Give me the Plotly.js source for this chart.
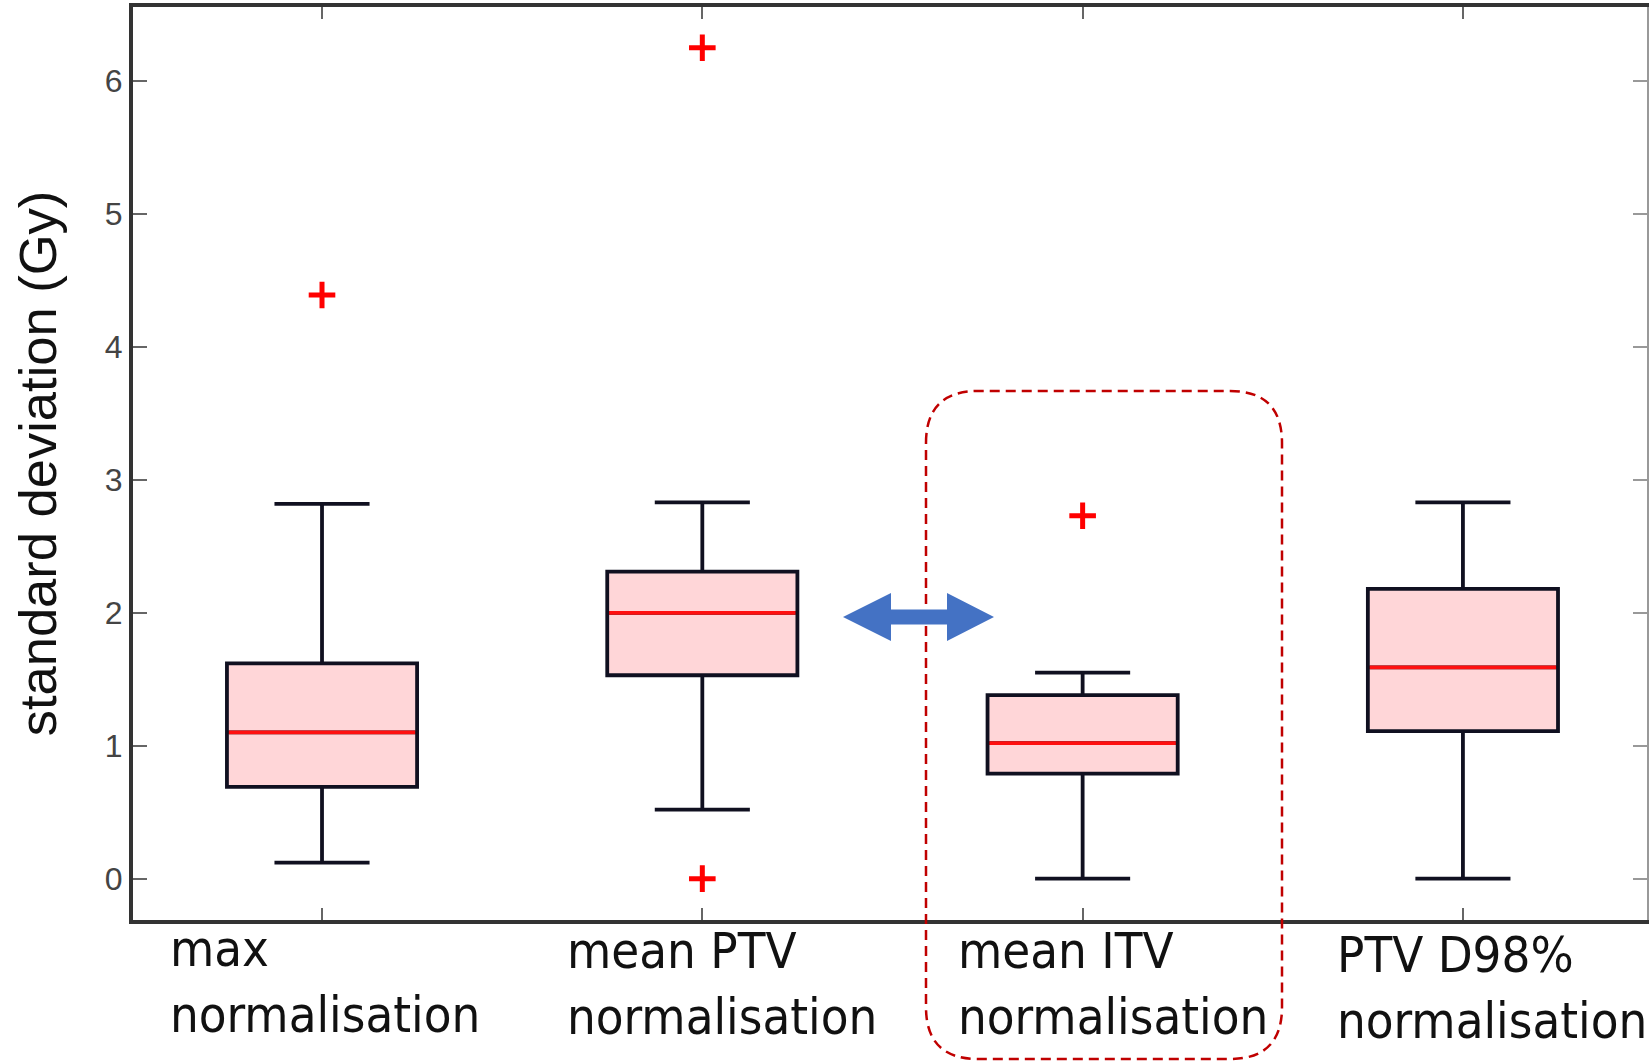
<!DOCTYPE html>
<html>
<head>
<meta charset="utf-8">
<script src="https://cdn.plot.ly/plotly-3.0.1.min.js"></script>
<style>html,body{margin:0;padding:0;background:#fff;} #chart{width:1650px;height:1062px;}</style>
</head>
<body>
<div id="chart"></div>
<script>
// ---- data ----
const categories = ["max normalisation", "mean PTV normalisation", "mean ITV normalisation", "PTV D98% normalisation"];
const categoryLabels = ["max<br>normalisation", "mean PTV<br>normalisation", "mean ITV<br>normalisation", "PTV D98%<br>normalisation"];
const lowerWhisker = [0.12, 0.52, 0.00, 0.00];
const q1Values     = [0.69, 1.53, 0.79, 1.11];
const medianValues = [1.10, 2.00, 1.02, 1.59];
const q3Values     = [1.62, 2.31, 1.38, 2.18];
const upperWhisker = [2.82, 2.83, 1.55, 2.83];
const outlierCategory = ["max normalisation", "mean PTV normalisation", "mean PTV normalisation", "mean ITV normalisation"];
const outlierValues   = [4.39, 6.25, 0.00, 2.73];
const yTickValues = [0, 1, 2, 3, 4, 5, 6];
const yTitle = "standard deviation (Gy)";

// ---- layout geometry (pixels) ----
const W = 1650, H = 1062;
const M = {l: 133, r: 3, t: 7, b: 142};
const PW = W - M.l - M.r, PH = H - M.t - M.b;
const px = x => (x - M.l) / PW;
const py = y => (H - M.b - y) / PH;

const traces = [
  {
    type: 'box', name: 'boxes', x: categories,
    q1: q1Values, median: medianValues, q3: q3Values,
    lowerfence: lowerWhisker, upperfence: upperWhisker,
    width: 0.5, whiskerwidth: 0.5,
    fillcolor: 'rgb(255,214,216)',
    line: {color: '#101020', width: 3.8},
    boxpoints: false, hoverinfo: 'skip', showlegend: false
  },
  {
    type: 'box', name: 'medians', x: categories,
    q1: medianValues, median: medianValues, q3: medianValues,
    lowerfence: medianValues, upperfence: medianValues,
    width: 0.49, whiskerwidth: 0,
    fillcolor: 'rgba(0,0,0,0)',
    line: {color: '#ff1010', width: 3.8},
    boxpoints: false, hoverinfo: 'skip', showlegend: false
  },
  {
    type: 'scatter', mode: 'markers', x: outlierCategory, y: outlierValues,
    marker: {symbol: 'cross-thin', size: 19, color: '#ff0000', line: {color: '#ff0000', width: 5}},
    hoverinfo: 'skip', showlegend: false
  },
  {
    type: 'scatter', mode: 'markers', x: [], y: [], yaxis: 'y2', showlegend: false, hoverinfo: 'skip'
  }
];

function roundedRect(x0, y0, x1, y1, r) {
  const rx = r / PW, ry = r / PH;
  const L = px(x0), R = px(x1), T = py(y0), B = py(y1);
  return `M ${L},${T - ry} Q ${L},${T} ${L + rx},${T} L ${R - rx},${T} Q ${R},${T} ${R},${T - ry} ` +
         `L ${R},${B + ry} Q ${R},${B} ${R - rx},${B} L ${L + rx},${B} Q ${L},${B} ${L},${B + ry} Z`;
}
const arrowPts = [[843,617],[891,593],[891,609.5],[947,609.5],[947,593],[994,617],[947,641],[947,624.5],[891,624.5],[891,641]];
const arrowPath = 'M ' + arrowPts.map(p => `${px(p[0])},${py(p[1])}`).join(' L ') + ' Z';

const labelShift = [-154, -137, -127, -128];
const labelYShift = [3, 1, 1, -3];
const annotations = categories.map((c, i) => ({
  xref: 'x', yref: 'paper', x: c, y: 0,
  xanchor: 'left', yanchor: 'top', align: 'left',
  xshift: labelShift[i], yshift: labelYShift[i],
  text: categoryLabels[i], showarrow: false,
  font: {family: '"DejaVu Sans Condensed", "DejaVu Sans", sans-serif', size: 50.5, color: '#111'}
}));

const layout = {
  width: W, height: H,
  margin: M,
  paper_bgcolor: '#fff', plot_bgcolor: '#fff',
  boxmode: 'overlay',
  showlegend: false,
  font: {family: '"Liberation Sans", Arial, sans-serif'},
  xaxis: {
    type: 'category', range: [-0.497, 3.484],
    showticklabels: false, ticks: 'inside', ticklen: 12, tickwidth: 2, tickcolor: '#666',
    showline: true, linewidth: 4, linecolor: '#333', mirror: 'ticks',
    showgrid: false, zeroline: false
  },
  yaxis: {
    range: [-0.311, 6.557], tickvals: yTickValues,
    ticks: 'inside', ticklen: 14, tickwidth: 2, tickcolor: '#666',
    tickfont: {size: 32, color: '#444'},
    showline: true, linewidth: 4, linecolor: '#333',
    showgrid: false, zeroline: false,
    title: {text: yTitle, font: {size: 52.5, color: '#111'}, standoff: 32}
  },
  yaxis2: {
    overlaying: 'y', side: 'right', range: [-0.311, 6.557], tickvals: yTickValues,
    ticks: 'inside', ticklen: 14, tickwidth: 2, tickcolor: '#999',
    showticklabels: false, showline: true, linewidth: 2, linecolor: '#999',
    showgrid: false, zeroline: false
  },
  annotations: annotations,
  shapes: [
    {type: 'path', xref: 'paper', yref: 'paper', path: roundedRect(926, 391, 1282, 1059, 52),
     line: {color: '#c00000', width: 2.5, dash: '10px,6px'}, fillcolor: 'rgba(0,0,0,0)'},
    {type: 'path', xref: 'paper', yref: 'paper', path: arrowPath,
     line: {width: 0, color: '#4472c4'}, fillcolor: '#4472c4'}
  ]
};

Plotly.newPlot('chart', traces, layout, {staticPlot: true, displayModeBar: false});
</script>
</body>
</html>
